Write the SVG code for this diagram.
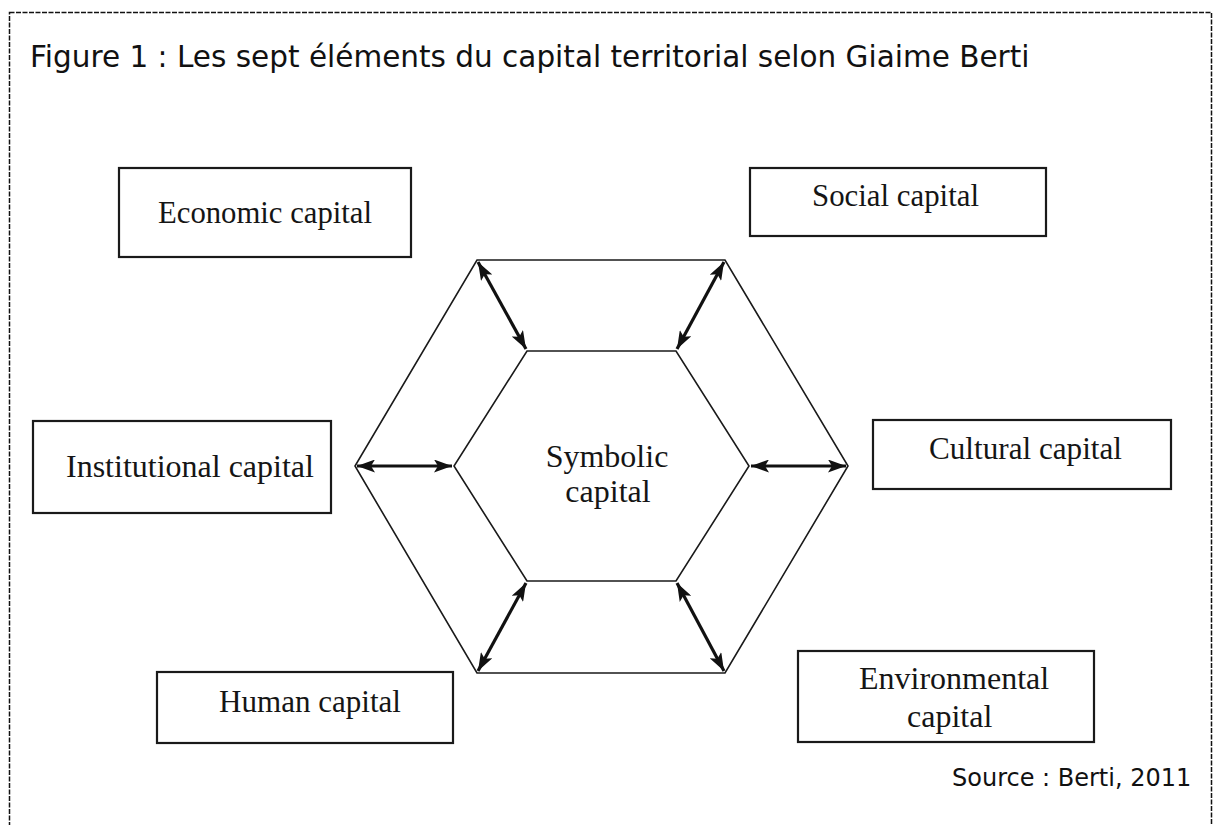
<svg xmlns="http://www.w3.org/2000/svg" width="1214" height="825" viewBox="0 0 1214 825">
<defs>
<style>
.frame{fill:none;stroke:#111;stroke-width:1.5;stroke-dasharray:5 1.5}
.box{fill:#fff;stroke:#1a1a1a;stroke-width:2.2}
.lbl{font-family:"Liberation Serif","Times New Roman",serif;font-size:32px;fill:#151515}
.cap{font-family:"DejaVu Sans",Verdana,sans-serif;font-size:24px;fill:#111}
.title{font-size:29.5px}
.hex{fill:none;stroke:#1a1a1a;stroke-width:1.6;stroke-linejoin:miter}
.arr{stroke:#111;stroke-width:3.2;fill:none;marker-start:url(#ah);marker-end:url(#ah)}
</style>
<marker id="ah" viewBox="0 0 18 13" refX="18" refY="6.5" markerWidth="18" markerHeight="13" markerUnits="userSpaceOnUse" orient="auto-start-reverse">
<path d="M0,0 L18,6.5 L0,13 L4,6.5 Z" fill="#111"/>
</marker>
</defs>
<rect class="frame" x="9.5" y="12.5" width="1202" height="840"/>
<text class="cap title" x="30" y="67">Figure 1 : Les sept éléments du capital territorial selon Giaime Berti</text>
<g id="hexagon">
<polygon class="hex" points="477,260 725,260 848,466 725,673 477,673 355,466"/>
<polygon class="hex" points="527,351 676,351 749,466 676,581 527,581 454,466"/>
</g>
<g id="connectors">
<line class="arr" x1="478" y1="262" x2="526" y2="349"/>
<line class="arr" x1="724" y1="262" x2="677" y2="349"/>
<line class="arr" x1="357" y1="466" x2="452" y2="466"/>
<line class="arr" x1="846" y1="466" x2="751" y2="466"/>
<line class="arr" x1="478" y1="671" x2="526" y2="583"/>
<line class="arr" x1="724" y1="671" x2="677" y2="583"/>
</g>
<g id="symbolic">
<text class="lbl" x="607" y="467" text-anchor="middle">Symbolic</text>
<text class="lbl" x="608" y="502" text-anchor="middle">capital</text>
</g>
<g id="economic">
<rect class="box" x="119" y="168" width="292" height="89"/>
<text class="lbl" x="158" y="223" textLength="214" lengthAdjust="spacingAndGlyphs">Economic capital</text>
</g>
<g id="social">
<rect class="box" x="750" y="168" width="296" height="68"/>
<text class="lbl" x="812" y="206" textLength="167" lengthAdjust="spacingAndGlyphs">Social capital</text>
</g>
<g id="institutional">
<rect class="box" x="33" y="421" width="298" height="92"/>
<text class="lbl" x="66" y="477">Institutional capital</text>
</g>
<g id="cultural">
<rect class="box" x="873" y="420" width="298" height="69"/>
<text class="lbl" x="929" y="459" textLength="193" lengthAdjust="spacingAndGlyphs">Cultural capital</text>
</g>
<g id="human">
<rect class="box" x="157" y="672" width="296" height="71"/>
<text class="lbl" x="219" y="712" textLength="182" lengthAdjust="spacingAndGlyphs">Human capital</text>
</g>
<g id="environmental">
<rect class="box" x="798" y="651" width="296" height="91"/>
<text class="lbl" x="859" y="689">Environmental</text>
<text class="lbl" x="907" y="727">capital</text>
</g>
<text class="cap" x="952" y="786">Source : Berti, 2011</text>
</svg>
